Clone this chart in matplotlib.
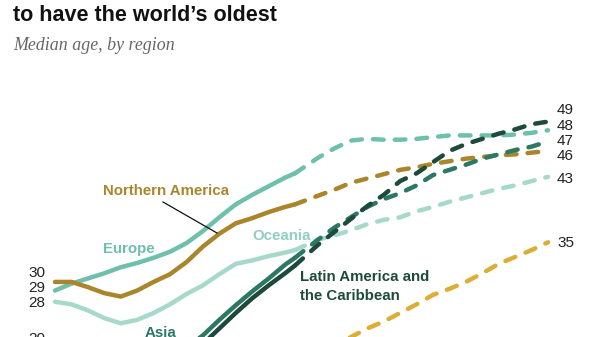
import numpy as np
import matplotlib.pyplot as plt

# median age by region, estimates through 2023 then projections
years = [1950, 1955, 1960, 1965, 1970, 1975, 1980, 1985, 1990, 1995, 2000, 2005,
         2010, 2015, 2020, 2023, 2030, 2035, 2040, 2045, 2050, 2055, 2060, 2065,
         2070, 2075, 2080, 2085, 2090, 2095, 2100]
split = years.index(2023)

europe = [29.4, 30.2, 30.8, 31.4, 32.1, 32.6, 33.2, 33.9, 34.9, 36.3, 37.9, 39.4,
          40.5, 41.5, 42.5, 43.0, 44.8, 45.9, 46.8, 47.0, 46.9, 46.9, 47.0, 47.2,
          47.4, 47.4, 47.4, 47.4, 47.5, 47.7, 48.0]
n_america = [30.4, 30.4, 29.8, 29.1, 28.7, 29.4, 30.4, 31.3, 32.7, 34.5, 36.0, 37.2,
             37.8, 38.5, 39.1, 39.4, 40.4, 41.1, 41.9, 42.4, 42.9, 43.4, 43.7, 44.1,
             44.4, 44.7, 44.9, 45.1, 45.2, 45.4, 45.6]
oceania = [28.1, 27.8, 27.1, 26.2, 25.6, 26.0, 26.8, 27.8, 29.0, 30.0, 31.3, 32.5,
           32.9, 33.4, 33.8, 34.1, 35.3, 35.8, 36.4, 37.1, 37.6, 37.9, 38.6, 39.1,
           39.7, 40.2, 40.7, 41.2, 41.6, 42.1, 42.6]
latin_am = [20.2, 19.8, 19.5, 19.1, 19.2, 19.6, 20.3, 21.0, 22.0, 23.2, 25.0, 26.8,
            28.5, 30.0, 31.4, 32.3, 34.7, 36.2, 37.7, 39.2, 40.5, 42.1, 43.0, 44.3,
            45.6, 46.4, 47.0, 47.6, 48.1, 48.7, 49.0]
asia = [21.8, 21.3, 20.8, 20.0, 19.8, 20.3, 21.0, 21.9, 22.8, 24.2, 26.0, 27.7,
        29.3, 30.8, 32.4, 33.2, 35.3, 36.7, 37.9, 39.1, 40.0, 40.7, 41.6, 42.8,
        43.4, 44.0, 44.7, 45.2, 45.7, 46.1, 46.7]
africa = [19.0, 18.7, 18.4, 18.0, 17.6, 17.3, 17.1, 17.0, 17.1, 17.4, 17.7, 18.0,
          18.4, 18.8, 19.2, 19.5, 21.3, 22.7, 24.0, 25.0, 25.8, 26.8, 27.8, 28.9,
          29.6, 30.4, 31.4, 32.5, 33.3, 34.1, 35.0]

C_EUR = '#6fc0ab'
C_NAM = '#a9862b'
C_OCE = '#a6d9ca'
C_LAT = '#1e4a3b'
C_ASI = '#2d7864'
C_AFR = '#dcae36'

W, H = 600, 337
fig = plt.figure(figsize=(W / 100, H / 100), dpi=100)
ax = fig.add_axes([0, 0, 1, 1])
ax.set_xlim(1933.27, 2115.8)
ax.set_ylim(24.01, 63.11)
ax.axis('off')

lw = 3.2
dash = (0, (2.4, 2.5))
yrs = np.array(years)
for vals, col in [(africa, C_AFR), (oceania, C_OCE), (europe, C_EUR),
                  (n_america, C_NAM), (asia, C_ASI), (latin_am, C_LAT)]:
    v = np.array(vals)
    ax.plot(yrs[:split + 1], v[:split + 1], color=col, lw=lw,
            solid_capstyle='round', solid_joinstyle='round')
    ax.plot(yrs[split:], v[split:], color=col, lw=lw, linestyle=dash,
            dash_capstyle='round')


def px(x, y):
    return x / W, 1 - y / H


# heading
fig.text(*px(13, 21), 'to have the world\u2019s oldest', fontsize=15.5,
         fontweight='bold', family='Liberation Sans', va='baseline', color='#111111')
fig.text(*px(13, 50), 'Median age, by region', fontsize=12.9, style='italic',
         family='Liberation Serif', va='baseline', color='#666666')

# region names
lab = dict(fontsize=10.8, fontweight='bold', family='Liberation Sans', va='center')
fig.text(*px(103, 191), 'Northern America', color=C_NAM, **lab)
fig.text(*px(103, 249), 'Europe', color=C_EUR, **lab)
fig.text(*px(252, 236), 'Oceania', color='#8fcfbd', **lab)
fig.text(*px(300, 277), 'Latin America and', color=C_LAT, **lab)
fig.text(*px(300, 296), 'the Caribbean', color=C_LAT, **lab)
fig.text(*px(145, 333), 'Asia', color=C_ASI, **lab)
fig.add_artist(plt.Line2D([163 / W, 217 / W], [1 - 202 / H, 1 - 233 / H],
                          color='#111111', lw=0.9))

# start and end values
num = dict(fontsize=11, family='Liberation Sans', va='center', color='#222222')
for vals, y in [(n_america, 273), (europe, 288), (oceania, 303), (latin_am, 339)]:
    fig.text(*px(45, y), f'{round(vals[0])}', ha='right', **num)
for vals, y in [(latin_am, 110), (europe, 126), (asia, 141), (n_america, 156),
                (oceania, 179), (africa, 243)]:
    fig.text(*px(557, y), f'{round(vals[-1])}', ha='left', **num)

fig.savefig('out.png', dpi=100, facecolor='white')
